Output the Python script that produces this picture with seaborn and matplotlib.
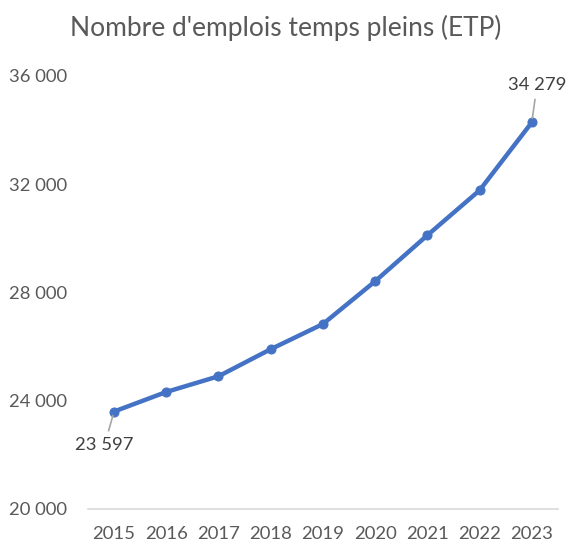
import matplotlib
matplotlib.use("Agg")
import matplotlib.pyplot as plt
import seaborn as sns
import pandas as pd

years = ["2015", "2016", "2017", "2018", "2019", "2020", "2021", "2022", "2023"]
etp = [23597, 24320, 24900, 25900, 26830, 28410, 30110, 31770, 34279]
y_ticks = [20000, 24000, 28000, 32000, 36000]

df = pd.DataFrame({"annee": years, "etp": etp})

sns.set_style("white")
plt.rcParams["font.family"] = ["Lato", "DejaVu Sans"]
grey = "#595959"
blue = "#4472C4"

fig = plt.figure(figsize=(5.71, 5.46), dpi=100)
ax = fig.add_axes([0.154, 0.068, 0.823, 0.793])

sns.lineplot(data=df, x="annee", y="etp", ax=ax, color=blue, linewidth=3.2,
             marker="o", markersize=6.5, markeredgecolor=blue, sort=False)

ax.set_ylim(20000, 36000)
ax.set_xlim(-0.5, len(years) - 0.5)
ax.set_yticks(y_ticks)
ax.set_yticklabels([f"{v:,}".replace(",", " ") for v in y_ticks])
ax.tick_params(axis="both", length=0, colors=grey, labelsize=13.3)
ax.tick_params(axis="y", pad=15)
ax.tick_params(axis="x", pad=12)
ax.set_xlabel("")
ax.set_ylabel("")

for side in ["top", "right", "left"]:
    ax.spines[side].set_visible(False)
ax.spines["bottom"].set_color("#D9D9D9")
ax.spines["bottom"].set_linewidth(1.2)

def fmt(v):
    return f"{v:,}".replace(",", " ")

ax.annotate(fmt(etp[0]), xy=(0, etp[0]), xytext=(-0.18, 22370),
            ha="center", va="center", color="#404040", fontsize=13.3,
            arrowprops=dict(arrowstyle="-", color="#A6A6A6", lw=1.2,
                            shrinkA=2, shrinkB=3))
ax.annotate(fmt(etp[-1]), xy=(8, etp[-1]), xytext=(8.1, 35650),
            ha="center", va="center", color="#404040", fontsize=13.3,
            arrowprops=dict(arrowstyle="-", color="#A6A6A6", lw=1.2,
                            shrinkA=2, shrinkB=3))

fig.suptitle("Nombre d'emplois temps pleins (ETP)", x=0.5, y=0.972,
             fontsize=19, color=grey)

fig.savefig("out.png", dpi=100, facecolor="white")
